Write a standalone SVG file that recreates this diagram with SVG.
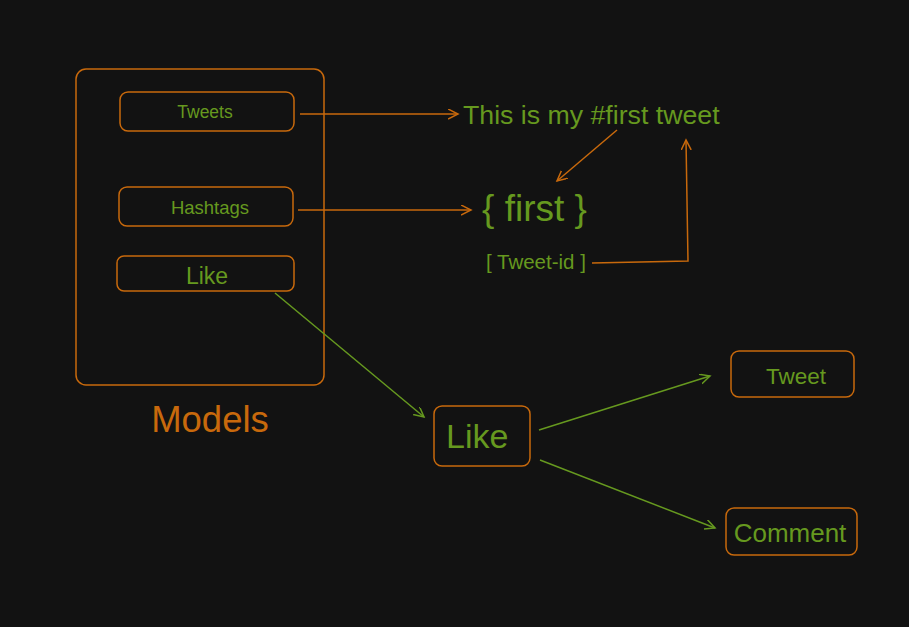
<svg xmlns="http://www.w3.org/2000/svg" width="909" height="627" viewBox="0 0 909 627">
<defs>
<style>
.box{fill:none;stroke:#c8690c;stroke-width:1.5}
.o{stroke:#c8690c;stroke-width:1.5;fill:none}
.g{stroke:#66991f;stroke-width:1.5;fill:none}
text{font-family:"Liberation Sans",Arial,sans-serif;fill:#66991f}
</style>
<marker id="ao" markerWidth="12" markerHeight="12" refX="10" refY="5" orient="auto" markerUnits="userSpaceOnUse"><path d="M0,0 L10,5 L0,10" fill="none" stroke="#c8690c" stroke-width="1.5"/></marker>
<marker id="ag" markerWidth="12" markerHeight="12" refX="10" refY="5" orient="auto" markerUnits="userSpaceOnUse"><path d="M0,0 L10,5 L0,10" fill="none" stroke="#66991f" stroke-width="1.5"/></marker>
</defs>
<rect width="909" height="627" fill="#121212"/>
<g id="models">
<rect class="box" x="76" y="69" width="248" height="316" rx="10"/>
<text x="210" y="432" font-size="36.5" text-anchor="middle" style="fill:#c8690c">Models</text>
</g>
<g id="tweets">
<rect class="box" x="120" y="92" width="174" height="39" rx="8"/>
<text x="205" y="118" font-size="17.5" text-anchor="middle">Tweets</text>
</g>
<g id="hashtags">
<rect class="box" x="119" y="187" width="174" height="39" rx="8"/>
<text x="210" y="214" font-size="18.5" text-anchor="middle">Hashtags</text>
</g>
<g id="like">
<rect class="box" x="117" y="256" width="177" height="35" rx="7"/>
<text x="207" y="284" font-size="23" text-anchor="middle">Like</text>
</g>
<g id="tweet-text">
<text x="463" y="124" font-size="26.7">This is my #first tweet</text>
</g>
<g id="first">
<text x="482" y="221" font-size="37">{ first }</text>
</g>
<g id="tweet-id">
<text x="486" y="269" font-size="20.5">[ Tweet-id ]</text>
</g>
<g id="like2">
<rect class="box" x="434" y="406" width="96" height="60" rx="8"/>
<text x="446" y="448" font-size="34">Like</text>
</g>
<g id="tweet">
<rect class="box" x="731" y="351" width="123" height="46" rx="8"/>
<text x="796" y="384" font-size="22.5" text-anchor="middle">Tweet</text>
</g>
<g id="comment">
<rect class="box" x="726" y="508" width="131" height="47" rx="8"/>
<text x="790" y="542" font-size="26" text-anchor="middle">Comment</text>
</g>
<g id="connectors">
<path class="o" d="M300,114 L458,114" marker-end="url(#ao)"/>
<path class="o" d="M298,210 L471,210" marker-end="url(#ao)"/>
<path class="o" d="M617,130 L557,181" marker-end="url(#ao)"/>
<path class="o" d="M592,263 L688,261 L686,140" marker-end="url(#ao)"/>
<path class="g" d="M275,293 L424,417" marker-end="url(#ag)"/>
<path class="g" d="M539,430 L710,376" marker-end="url(#ag)"/>
<path class="g" d="M540,460 L715,528" marker-end="url(#ag)"/>
</g>
</svg>
